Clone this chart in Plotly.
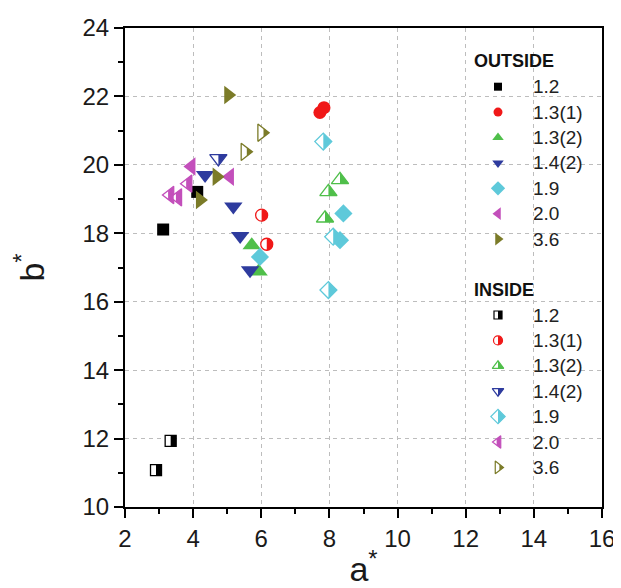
import math
import plotly.graph_objects as go

# ---------------- data ----------------
SERIES = ["1.2", "1.3(1)", "1.3(2)", "1.4(2)", "1.9", "2.0", "3.6"]
COLORS = ["#000000", "#f01818", "#4fbf4a", "#2e3b9e", "#5ec9da", "#c34fbb", "#7b7b28"]
SYMBOLS = ["square", "circle", "triangle-up", "triangle-down", "diamond",
           "triangle-left", "triangle-right"]

# OUTSIDE  (a*, b*)
OUT_12_A = [3.12, 4.12]
OUT_12_B = [18.11, 19.21]
OUT_131_A = [7.84, 7.72]
OUT_131_B = [21.67, 21.53]
OUT_132_A = [5.72, 5.92]
OUT_132_B = [17.65, 16.88]
OUT_142_A = [4.35, 5.18, 5.38, 5.67]
OUT_142_B = [19.70, 18.78, 17.92, 16.92]
OUT_19_A = [5.96, 8.41, 8.31]
OUT_19_B = [17.31, 18.58, 17.80]
OUT_20_A = [3.95, 5.08]
OUT_20_B = [19.95, 19.65]
OUT_36_A = [5.03, 4.69, 4.20]
OUT_36_B = [22.04, 19.65, 18.97]

# INSIDE  (a*, b*)
IN_12_A = [3.34, 2.91]
IN_12_B = [11.93, 11.08]
IN_131_A = [6.01, 6.16]
IN_131_B = [18.53, 17.68]
IN_132_A = [8.31, 7.97, 7.87]
IN_132_B = [19.56, 19.21, 18.44]
IN_142_A = [4.74]
IN_142_B = [20.19]
IN_19_A = [7.82, 8.11, 7.97]
IN_19_B = [20.68, 17.90, 16.34]
IN_20_A = [3.32, 3.55, 3.85]
IN_20_B = [19.12, 19.05, 19.45]
IN_36_A = [6.01, 5.52]
IN_36_B = [20.94, 20.38]

OUTSIDE = [(OUT_12_A, OUT_12_B), (OUT_131_A, OUT_131_B), (OUT_132_A, OUT_132_B),
           (OUT_142_A, OUT_142_B), (OUT_19_A, OUT_19_B), (OUT_20_A, OUT_20_B),
           (OUT_36_A, OUT_36_B)]
INSIDE = [(IN_12_A, IN_12_B), (IN_131_A, IN_131_B), (IN_132_A, IN_132_B),
          (IN_142_A, IN_142_B), (IN_19_A, IN_19_B), (IN_20_A, IN_20_B),
          (IN_36_A, IN_36_B)]

X_TICKS = [2, 4, 6, 8, 10, 12, 14, 16]
Y_TICKS = [10, 12, 14, 16, 18, 20, 22, 24]

# ---------------- styling ----------------
# the page body adds an 8px margin, so the figure is 8px smaller than the window
OFF = 8
W, H = 621 - OFF, 588 - OFF
ML, MT = 125 - OFF, 28 - OFF
MR = W - (602 - OFF)
MB = H - (507 - OFF)
PW, PH = W - ML - MR, H - MT - MB
FONT = "Liberation Sans, Arial, sans-serif"

DATA_SIZE = {"square": 12, "circle": 13, "triangle-up": 16, "triangle-down": 16,
             "diamond": 14, "triangle-left": 16, "triangle-right": 16}
LEG_SIZE = {"square": 8, "circle": 9, "triangle-up": 10, "triangle-down": 10,
            "diamond": 11, "triangle-left": 11, "triangle-right": 11}


def half_path(sym, s):
    """Right-half of a plotly symbol of size s, in shape pixel coords (y up)."""
    r = s / 2.0
    rt = r * 2 / math.sqrt(3)
    if sym == "circle":
        k = 0.5523
        return (f"M0,{r} C{k*r},{r} {r},{k*r} {r},0 "
                f"C{r},{-k*r} {k*r},{-r} 0,{-r} Z")
    if sym == "square":
        pts = [(0, -r), (r, -r), (r, r), (0, r)]
    elif sym == "diamond":
        rd = 1.3 * r
        pts = [(0, -rd), (rd, 0), (0, rd)]
    elif sym == "triangle-up":
        pts = [(0, -r), (rt, r / 2), (0, r / 2)]
    elif sym == "triangle-down":
        pts = [(0, -r / 2), (rt, -r / 2), (0, r)]
    elif sym == "triangle-left":
        pts = [(-r / 4, -rt / 2), (r / 2, -rt), (r / 2, rt), (-r / 4, rt / 2)]
    else:  # triangle-right
        pts = [(r / 4, -rt / 2), (r, 0), (r / 4, rt / 2)]
    # svg y is downward -> flip
    return "M" + " L".join(f"{x:.2f},{-y:.2f}" for x, y in pts) + " Z"


fig = go.Figure()
shapes = []

# outside (filled) markers
for name, col, sym, (xa, yb) in zip(SERIES, COLORS, SYMBOLS, OUTSIDE):
    fig.add_trace(go.Scatter(
        x=xa, y=yb, mode="markers", name="OUTSIDE " + name, showlegend=False,
        marker=dict(symbol=sym, size=DATA_SIZE[sym], color=col,
                    line=dict(width=0))))

# inside (half-filled) markers: white body + coloured outline, right half filled
for name, col, sym, (xa, yb) in zip(SERIES, COLORS, SYMBOLS, INSIDE):
    fig.add_trace(go.Scatter(
        x=xa, y=yb, mode="markers", name="INSIDE " + name, showlegend=False,
        marker=dict(symbol=sym, size=DATA_SIZE[sym] - 1, color="white",
                    line=dict(width=1.3, color=col))))
    for xv, yv in zip(xa, yb):
        shapes.append(dict(type="path", xref="x", yref="y",
                           xsizemode="pixel", ysizemode="pixel",
                           xanchor=xv, yanchor=yv,
                           path=half_path(sym, DATA_SIZE[sym] - 1),
                           fillcolor=col, line=dict(width=0), layer="above"))

# ---------------- custom legend (overlay axis in plot fraction) ----------------
def fx(px):
    return (px - OFF - ML) / PW


def fy(py):
    return (H - MB - (py - OFF)) / PH


LEG_MARK_X = 498
LEG_TEXT_X = 531
LEG_HEAD_X = 472
OUT_HEAD_Y = 61
OUT_ITEM_Y0 = 86.7
IN_HEAD_Y = 290
IN_ITEM_Y0 = 315
STEP = 25.4

annotations = []
annotations.append(dict(text="<b>OUTSIDE</b>", x=fx(LEG_HEAD_X), y=fy(OUT_HEAD_Y),
                        xref="paper", yref="paper", xanchor="left", yanchor="middle",
                        showarrow=False, font=dict(size=18, color="#111111", family=FONT)))
annotations.append(dict(text="<b>INSIDE</b>", x=fx(LEG_HEAD_X), y=fy(IN_HEAD_Y),
                        xref="paper", yref="paper", xanchor="left", yanchor="middle",
                        showarrow=False, font=dict(size=18, color="#111111", family=FONT)))

for i, (name, col, sym) in enumerate(zip(SERIES, COLORS, SYMBOLS)):
    yo = fy(OUT_ITEM_Y0 + STEP * i)
    yi = fy(IN_ITEM_Y0 + STEP * i)
    s = LEG_SIZE[sym]
    fig.add_trace(go.Scatter(
        x=[fx(LEG_MARK_X)], y=[yo], xaxis="x2", yaxis="y2", mode="markers",
        showlegend=False, hoverinfo="skip",
        marker=dict(symbol=sym, size=s, color=col, line=dict(width=0))))
    fig.add_trace(go.Scatter(
        x=[fx(LEG_MARK_X)], y=[yi], xaxis="x2", yaxis="y2", mode="markers",
        showlegend=False, hoverinfo="skip",
        marker=dict(symbol=sym, size=s, color="white", line=dict(width=1.2, color=col))))
    shapes.append(dict(type="path", xref="x2", yref="y2",
                       xsizemode="pixel", ysizemode="pixel",
                       xanchor=fx(LEG_MARK_X), yanchor=yi,
                       path=half_path(sym, s), fillcolor=col,
                       line=dict(width=0), layer="above"))
    for yy in (yo, yi):
        annotations.append(dict(text=name, x=fx(LEG_TEXT_X), y=yy,
                                xref="paper", yref="paper", xanchor="left",
                                yanchor="middle", showarrow=False,
                                font=dict(size=19, color="#222222", family=FONT)))

axis_common = dict(
    showline=True, linewidth=2.2, linecolor="black", mirror=True,
    ticks="outside", ticklen=9, tickwidth=2, tickcolor="black",
    showgrid=True, gridcolor="#bdbdbd", gridwidth=1, griddash="4px,4px",
    zeroline=False, automargin=False,
    tickfont=dict(size=24, color="#1a1a1a", family=FONT),
    minor=dict(ticks="outside", ticklen=5, tickwidth=2, tickcolor="black",
               dtick=1, showgrid=False),
)

fig.update_layout(
    width=W, height=H,
    margin=dict(l=ML, r=MR, t=MT, b=MB),
    paper_bgcolor="white", plot_bgcolor="white",
    showlegend=False,
    font=dict(family=FONT, color="#1a1a1a"),
    xaxis=dict(range=[2, 16], tickvals=X_TICKS,
               title=dict(text="a<sup>*</sup>", font=dict(size=34, family=FONT),
                          standoff=18),
               **axis_common),
    yaxis=dict(range=[10, 24], tickvals=Y_TICKS,
               title=dict(text="b<sup>*</sup>", font=dict(size=34, family=FONT),
                          standoff=30),
               **axis_common),
    xaxis2=dict(overlaying="x", range=[0, 1], visible=False, anchor="y2",
                fixedrange=True),
    yaxis2=dict(overlaying="y", range=[0, 1], visible=False, anchor="x2",
                fixedrange=True),
    shapes=shapes,
    annotations=annotations,
)

fig.write_html("out.html")
